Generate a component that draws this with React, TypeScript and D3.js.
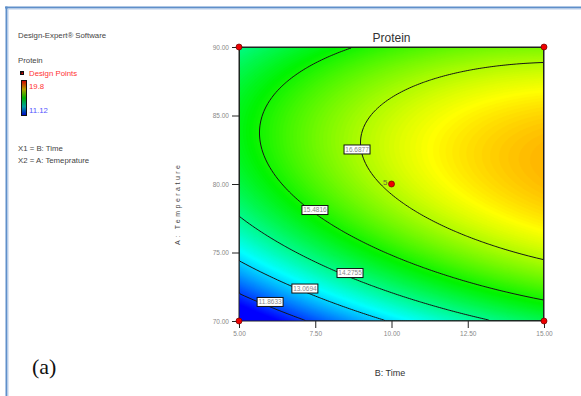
import React, { useEffect, useRef } from 'react';
import * as d3 from 'd3';

const W = 581;
const H = 396;
const plot = { left: 239, top: 47, right: 544, bottom: 321 };

// axes (B: Time on x, A: Temperature on y)
const timeDomain = [5, 15];
const tempDomain = [70, 90];
const xTicks = [5, 7.5, 10, 12.5, 15];
const yTicks = [70, 75, 80, 85, 90];

// fitted quadratic, coded units: b0, B, A, B^2, A^2, AB
const modelCoefs = [16.8, 1.505, 1.311, -0.46, -2.36, -0.522];

// contour levels and where their labels sit (time, temperature)
const contourLevels = [11.8633, 13.0694, 14.2755, 15.4816, 16.6877];
const labelTime = [6.02, 7.16, 8.64, 7.49, 8.87];
const labelTemp = [71.39, 72.37, 73.5, 78.1, 82.52];

// design points (time, temperature, replicate count)
const pointTime = [5, 15, 5, 15, 10];
const pointTemp = [70, 70, 90, 90, 80];
const pointCount = [1, 1, 1, 1, 5];

// legend range and colour ramp anchors
const responseLow = 11.12;
const responseHigh = 19.8;
const rampValues = [11.4, 13.4, 15.35, 17.3, 19.4];
const rampColors = ['#0000ff', '#00ffff', '#00f400', '#ffff00', '#ff0000'];

const FONT = 'Arial, "Liberation Sans", sans-serif';

function protein(time: number, temp: number) {
  const b = (time - 10) / 5;
  const a = (temp - 80) / 10;
  const [b0, bB, bA, bBB, bAA, bAB] = modelCoefs;
  return b0 + bB * b + bA * a + bBB * b * b + bAA * a * a + bAB * a * b;
}

const App: React.FC = () => {
  const svgRef = useRef<SVGSVGElement>(null);

  useEffect(() => {
    if (!svgRef.current) return;
    const svg = d3.select(svgRef.current);
    svg.selectAll('*').remove();

    const pw = plot.right - plot.left;
    const ph = plot.bottom - plot.top;

    const x = d3.scaleLinear().domain(timeDomain).range([plot.left, plot.right]);
    const y = d3.scaleLinear().domain(tempDomain).range([plot.bottom, plot.top]);

    const color = d3.scaleLinear<string>().domain(rampValues).range(rampColors).clamp(true);

    // frame
    svg.append('rect').attr('x', 0).attr('y', 0).attr('width', W).attr('height', H).attr('fill', '#fff');
    svg.append('line').attr('x1', 5).attr('x2', W).attr('y1', 7.5).attr('y2', 7.5).attr('stroke', '#5f8fca').attr('stroke-width', 2);
    svg.append('line').attr('x1', 6.5).attr('x2', 6.5).attr('y1', 6.5).attr('y2', H).attr('stroke', '#5f8fca').attr('stroke-width', 2);
    svg.append('line').attr('x1', 8).attr('x2', W).attr('y1', 9).attr('y2', 9).attr('stroke', '#b9cde9').attr('stroke-width', 1);
    svg.append('line').attr('x1', 8).attr('x2', 8).attr('y1', 9).attr('y2', H).attr('stroke', '#b9cde9').attr('stroke-width', 1);

    // grid of predicted values
    const nx = 153;
    const ny = 137;
    const values: number[] = new Array(nx * ny);
    for (let j = 0; j < ny; j++) {
      for (let i = 0; i < nx; i++) {
        const px = plot.left + ((i + 0.5) * pw) / nx;
        const py = plot.top + ((j + 0.5) * ph) / ny;
        values[j * nx + i] = protein(x.invert(px), y.invert(py));
      }
    }
    const [vmin, vmax] = d3.extent(values) as [number, number];

    const proj = d3.geoTransform({
      point(gx: number, gy: number) {
        (this as any).stream.point(plot.left + (gx * pw) / nx, plot.top + (gy * ph) / ny);
      },
    });
    const path = d3.geoPath(proj);

    const defs = svg.append('defs');
    defs
      .append('clipPath')
      .attr('id', 'plot-clip')
      .append('rect')
      .attr('x', plot.left)
      .attr('y', plot.top)
      .attr('width', pw)
      .attr('height', ph);

    const body = svg.append('g').attr('clip-path', 'url(#plot-clip)');

    // smooth colour fill from many thin bands
    const bandStep = (vmax - vmin) / 160;
    const fillLevels = d3.range(vmin, vmax, bandStep);
    body
      .append('rect')
      .attr('x', plot.left)
      .attr('y', plot.top)
      .attr('width', pw)
      .attr('height', ph)
      .attr('fill', color(vmin));
    body
      .append('g')
      .selectAll('path')
      .data(d3.contours().size([nx, ny]).thresholds(fillLevels)(values))
      .join('path')
      .attr('d', (d) => path(d as any))
      .attr('fill', (d) => color(d.value + bandStep / 2))
      .attr('stroke', (d) => color(d.value + bandStep / 2))
      .attr('stroke-width', 0.6);

    // contour lines
    body
      .append('g')
      .selectAll('path')
      .data(d3.contours().size([nx, ny]).thresholds(contourLevels)(values))
      .join('path')
      .attr('d', (d) => path(d as any))
      .attr('fill', 'none')
      .attr('stroke', '#151515')
      .attr('stroke-width', 1);

    // contour labels
    const labels = svg
      .append('g')
      .selectAll('g')
      .data(contourLevels.map((v, i) => ({ v, t: labelTime[i], a: labelTemp[i] })))
      .join('g')
      .attr('transform', (d) => `translate(${x(d.t)},${y(d.a)})`);
    labels
      .append('rect')
      .attr('x', -13)
      .attr('y', -4.5)
      .attr('width', 26)
      .attr('height', 9)
      .attr('fill', '#fff')
      .attr('stroke', '#111')
      .attr('stroke-width', 1);
    labels
      .append('text')
      .attr('text-anchor', 'middle')
      .attr('y', 2.3)
      .style('font-family', FONT)
      .style('font-size', '6.5px')
      .style('fill', '#888')
      .text((d) => d.v.toFixed(4));

    // plot border
    svg
      .append('rect')
      .attr('x', plot.left)
      .attr('y', plot.top)
      .attr('width', pw)
      .attr('height', ph)
      .attr('fill', 'none')
      .attr('stroke', '#222')
      .attr('stroke-width', 1);

    // axes
    const fmt = d3.format('.2f');
    const xAxis = svg
      .append('g')
      .attr('transform', `translate(0,${plot.bottom})`)
      .call(d3.axisBottom(x).tickValues(xTicks).tickSize(7).tickFormat((d) => fmt(d as number)));
    const yAxis = svg
      .append('g')
      .attr('transform', `translate(${plot.left},0)`)
      .call(d3.axisLeft(y).tickValues(yTicks).tickSize(7).tickFormat((d) => fmt(d as number)));
    [xAxis, yAxis].forEach((ax) => {
      ax.select('.domain').remove();
      ax.selectAll('line').attr('stroke', '#222');
      ax.selectAll('text').style('font-family', FONT).style('font-size', '6.5px').style('fill', '#888');
    });

    // design points
    const pts = pointTime.map((t, i) => ({ t, a: pointTemp[i], n: pointCount[i] }));
    svg
      .append('g')
      .selectAll('circle')
      .data(pts)
      .join('circle')
      .attr('cx', (d) => x(d.t))
      .attr('cy', (d) => y(d.a))
      .attr('r', 3)
      .attr('fill', '#ee0000')
      .attr('stroke', '#700000')
      .attr('stroke-width', 0.7);
    svg
      .append('g')
      .selectAll('text')
      .data(pts.filter((d) => d.n > 1))
      .join('text')
      .attr('x', (d) => x(d.t) - 4)
      .attr('y', (d) => y(d.a) + 1)
      .attr('text-anchor', 'end')
      .style('font-family', FONT)
      .style('font-size', '8px')
      .style('fill', '#66663a')
      .text((d) => String(d.n));

    // titles
    svg
      .append('text')
      .attr('x', (plot.left + plot.right) / 2)
      .attr('y', 42)
      .attr('text-anchor', 'middle')
      .style('font-family', FONT)
      .style('font-size', '12px')
      .style('fill', '#333')
      .text('Protein');
    svg
      .append('text')
      .attr('x', 390)
      .attr('y', 376)
      .attr('text-anchor', 'middle')
      .style('font-family', FONT)
      .style('font-size', '9px')
      .style('fill', '#333')
      .text('B: Time');
    svg
      .append('text')
      .attr('transform', 'translate(180,205) rotate(-90)')
      .attr('text-anchor', 'middle')
      .attr('textLength', 80)
      .attr('lengthAdjust', 'spacing')
      .style('font-family', FONT)
      .style('font-size', '7px')
      .style('fill', '#444')
      .text('A: Temperature');

    // legend block
    const leg = svg.append('g').style('font-family', FONT).style('font-size', '7.8px');
    leg.append('text').attr('x', 18).attr('y', 38).style('fill', '#444').text('Design-Expert® Software');
    leg.append('text').attr('x', 18).attr('y', 63).style('fill', '#444').text('Protein');
    leg.append('rect').attr('x', 20).attr('y', 71).attr('width', 4).attr('height', 4).attr('fill', '#111');
    leg.append('rect').attr('x', 21.5).attr('y', 72.5).attr('width', 1.5).attr('height', 1.5).attr('fill', '#e00');
    leg.append('text').attr('x', 29).attr('y', 76).style('fill', '#ff3333').text('Design Points');

    const grad = defs
      .append('linearGradient')
      .attr('id', 'legend-grad')
      .attr('x1', 0)
      .attr('x2', 0)
      .attr('y1', 0)
      .attr('y2', 1);
    [
      [0, '#d00000'],
      [0.25, '#b0a000'],
      [0.5, '#00b000'],
      [0.75, '#00a0a0'],
      [1, '#0000c8'],
    ].forEach(([o, c]) => grad.append('stop').attr('offset', o as number).attr('stop-color', c as string));
    leg
      .append('rect')
      .attr('x', 21.5)
      .attr('y', 80.5)
      .attr('width', 5)
      .attr('height', 35)
      .attr('fill', 'url(#legend-grad)')
      .attr('stroke', '#111')
      .attr('stroke-width', 1);
    leg.append('text').attr('x', 29).attr('y', 89).style('fill', '#ff3333').text(String(responseHigh));
    leg.append('text').attr('x', 29).attr('y', 113).style('fill', '#5555ff').text(responseLow.toFixed(2));
    leg.append('text').attr('x', 18).attr('y', 151).style('fill', '#444').text('X1 = B: Time');
    leg.append('text').attr('x', 18).attr('y', 163).style('fill', '#444').text('X2 = A: Temeprature');

    // panel tag
    svg
      .append('text')
      .attr('x', 32)
      .attr('y', 374)
      .style('font-family', '"Liberation Serif", "Times New Roman", serif')
      .style('font-size', '22px')
      .style('fill', '#111')
      .text('(a)');
  }, []);

  return (
    <div style={{ position: 'absolute', left: 0, top: 0 }}>
      <svg ref={svgRef} width={W} height={H} style={{ display: 'block' }} />
    </div>
  );
};

export default App;
